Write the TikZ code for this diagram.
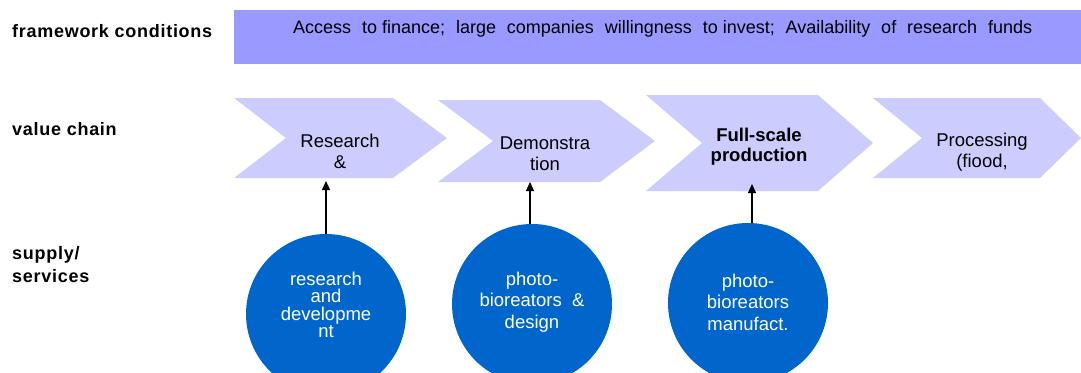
\documentclass[tikz,border=0pt]{standalone}
\usepackage{fontspec}
\setmainfont{Liberation Sans}
\usetikzlibrary{arrows.meta}
\definecolor{framefill}{HTML}{9999FF}
\definecolor{chevfill}{HTML}{CCCCFF}
\definecolor{circfill}{HTML}{0066CC}
\begin{document}
\begin{tikzpicture}[x=1pt,y=-1pt,
  lab/.style={anchor=west, font=\fontsize{18}{23}\selectfont\bfseries\addfontfeature{LetterSpace=4}, align=left, inner sep=0pt},
  chevtext/.style={font=\fontsize{18.5}{21}\selectfont, align=center, inner sep=0pt},
  chevbold/.style={chevtext, font=\fontsize{18.5}{20}\selectfont\bfseries},
  supply/.style={circle, fill=circfill, minimum size=160pt, inner sep=0pt},
  circtext/.style={text=white, align=center, inner sep=0pt},
  feed/.style={-{Triangle[width=8pt,length=9pt]}, line width=1.2pt}]
\useasboundingbox (0,0) rectangle (1081,372);
\clip (0,0) rectangle (1081,372);
% left labels
\node[lab] (lfw) at (12,31) {framework conditions};
\node[lab] (lvc) at (12,129) {value chain};
\node[lab] (lss) at (12,265) {supply/\\services};
% framework bar
\fill[framefill] (234,10) rectangle (1081,64);
\node[font=\fontsize{18}{20}\selectfont, inner sep=0pt, anchor=base west] (fw) at (293,33) {\makebox[739pt][s]{Access \hbox{to finance;} large companies willingness \hbox{to invest;} Availability of research funds}};
% chevrons
\fill[chevfill] (234,98) -- (393,98) -- (447,138) -- (393,178) -- (234,178) -- (286,138) -- cycle;
\fill[chevfill] (438,100) -- (600,100) -- (655,141) -- (600,182) -- (438,182) -- (493,141) -- cycle;
\fill[chevfill] (646,95) -- (818,95) -- (873,143) -- (818,191) -- (646,191) -- (702,143) -- cycle;
\fill[chevfill] (873,98) -- (1040,98) -- (1081,138) -- (1040,178) -- (873,178) -- (922,138) -- cycle;
\node[chevtext] (c1) at (340,151) {Research\\\&};
\node[chevtext] (c2) at (545,154) {Demonstra\\tion};
\node[chevbold] (c3) at (759,147) {Full-scale\\production};
\node[chevtext] (c4) at (982,152) {Processing\\(fiood,};
% supply circles
\node[supply] (s1) at (326,314) {};
\node[supply] (s2) at (532,304) {};
\node[supply] (s3) at (748,303) {};
\node[circtext, font=\fontsize{18.5}{17.5}\selectfont] (t1) at ([yshift=9pt]s1.center) {research\\and\\developme\\nt};
\node[circtext, font=\fontsize{18.5}{21.5}\selectfont] (t2) at ([yshift=2pt]s2.center) {photo-\\bioreators \ \&\\design};
\node[circtext, font=\fontsize{18.5}{21.5}\selectfont] (t3) at ([yshift=1pt]s3.center) {photo-\\bioreators\\manufact.};
% arrows
\coordinate (a1) at (326,181);
\coordinate (a2) at (530,182);
\coordinate (a3) at (752,184);
\draw[feed] (s1.north) -- (a1);
\draw[feed] (a2 |- s2.north) -- (a2);
\draw[feed] (a3 |- s3.north) -- (a3);
\end{tikzpicture}
\end{document}
